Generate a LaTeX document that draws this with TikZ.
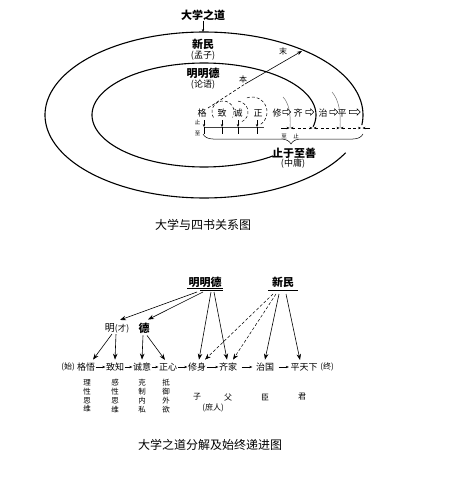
\documentclass[tikz,border=0pt]{standalone}
\usepackage{fontspec}
\setmainfont{Noto Sans CJK SC}
\usetikzlibrary{arrows.meta,shapes.arrows,decorations.pathreplacing,calc}
\begin{document}
\begin{tikzpicture}[x=1pt,y=-1pt,
  lbl/.style={inner sep=0pt, font=\fontsize{11}{12}\selectfont\bfseries},
  sub/.style={inner sep=0pt, font=\fontsize{9}{10}\selectfont},
  rowc/.style={inner sep=0pt, font=\fontsize{9}{10}\selectfont},
  brow/.style={inner xsep=0.5pt, inner ysep=3pt, font=\fontsize{9}{10}\selectfont},
  tinyt/.style={inner sep=0pt, font=\fontsize{5.5}{6}\selectfont},
  smallt/.style={inner sep=0pt, font=\fontsize{8}{9}\selectfont},
  vert/.style={inner sep=0pt, align=center, font=\fontsize{7.5}{8.8}\selectfont},
  captxt/.style={inner sep=0pt, font=\fontsize{12}{13}\selectfont},
  ring/.style={line width=1.1pt},
  thinarc/.style={line width=0.45pt, black!60},
  dsh/.style={dash pattern=on 3pt off 2pt, line width=0.6pt},
  sa/.style={-{Stealth[length=3pt,width=2.4pt]}, line width=0.4pt},
  dimline/.style={dash pattern=on 3pt off 2.5pt, line width=0.4pt,
    {Stealth[length=3pt,width=2.4pt]}-{Stealth[length=3pt,width=2.4pt]}},
  ba/.style={-{Stealth[length=6pt,width=4.5pt]}, line width=0.6pt},
  bad/.style={-{Stealth[length=6pt,width=4.5pt]}, dash pattern=on 3pt off 2pt, line width=0.5pt},
  ha/.style={single arrow, draw, line width=0.5pt, minimum height=8pt,
    single arrow head extend=1.5pt, inner sep=1.4pt},
]
\useasboundingbox (0,0) rectangle (448,500);

% ---------- top diagram ----------
\draw[ring] plot[domain=27:367, samples=160] ({204+159*cos(\x)},{115+83*sin(\x)});
\draw[ring] plot[domain=52:373, samples=140] ({204+112*cos(\x)},{115+52*sin(\x)});

\node[lbl] (dxzd) at (203,15) {大学之道};
\coordinate (outtop) at (203,32);
\draw[sa] (dxzd.south) -- (outtop);
\node[lbl] (xm) at (203,44) {新民};
\node[sub] (mz) at (203,56) {(孟子)};
\node[lbl] (mmd) at (203,73) {明明德};
\node[sub] (ly) at (203,85) {(论语)};

\node[rowc] (ge) at (202,113) {格};
\node[rowc] (zhia) at (222,113) {致};
\node[rowc] (cheng) at (238,113) {诚};
\node[rowc] (zheng) at (258,113) {正};
\node[rowc] (xiu) at (277,113) {修};
\node[rowc] (qi) at (298,113) {齐};
\node[rowc] (zhib) at (323,113) {治};
\node[rowc] (ping) at (342,113) {平};
\node[ha] (h1) at (286,112) {};
\node[ha] (h2) at (309,112) {};
\node[ha] (h3) at (333,112) {};
\node[ha, minimum height=11pt] (h4) at (354,112) {};

% dashed progress arcs
\draw[dsh, line width=0.5pt] plot[domain=-210:30, samples=40] ({223+11*cos(\x)},{112+11*sin(\x)});
\draw[dsh, line width=0.5pt] plot[domain=-80:60, samples=30] ({236+12*cos(\x)},{112+11*sin(\x)});
\draw[dsh, line width=0.5pt] plot[domain=-110:60, samples=30] ({252+15*cos(\x)},{112+15*sin(\x)});

% thin arcs
\draw[thinarc] (283,97) .. controls (289,103) and (291,115) .. (290,128);
\draw[thinarc] (332,92) .. controls (339,100) and (341,113) .. (340,128);

% ben - mo arrow
\coordinate (bstart) at (208,108);
\coordinate (bmid) at (245,84);
\coordinate (btip) at (302,51);
\draw[dsh] (bstart) -- (bmid);
\draw[-{Stealth[length=5pt,width=3.6pt]}, line width=0.6pt] (bmid) -- (btip);
\node[smallt] (ben) at (243,79) {本};
\node[smallt] (mo) at (283,51) {末};

% ticks left
\draw[line width=0.9pt, black!75] (204,127) -- (264,127);
\foreach \xx in {204,222,238,257} {
  \draw[sa] (\xx,120) -- (\xx,127);
  \draw[line width=0.4pt] (\xx,127) -- (\xx,134);
}
\node[tinyt] (zhiL) at (197.5,122) {止};
\node[tinyt] (zhiL2) at (197.5,133) {至};

% dimension line right
\draw[sa] (281,128) -- (289.5,128);
\draw[dimline] (290.5,128) -- (312.5,128);
\draw[dimline] (313.5,128) -- (339.5,128);
\draw[dimline] (340.5,128) -- (361,128);
\draw[sa] (370,128) -- (362.5,128);
\node[tinyt] (zhiR) at (284,136) {至};
\node[tinyt] (zhiR2) at (296,136) {止};

% brace
\draw[decorate, decoration={brace, mirror, amplitude=10pt, aspect=0.55}, line width=0.5pt] (203,134) -- (363,134);
\node[lbl] (zzzs) at (294,153) {止于至善};
\node[sub] (zy) at (293,164) {(中庸)};

\node[captxt] (cap1) at (203,225) {大学与四书关系图};

% ---------- bottom diagram ----------
\node[lbl] (mmdb) at (205,282) {明明德};
\draw[line width=0.9pt] (187,288) -- (223,288);
\draw[line width=0.9pt] (200,290) -- (223,290);
\node[lbl] (xmb) at (283,282) {新民};
\draw[line width=0.9pt] (268,290) -- (298,290);

\node[inner sep=0pt] (ming) at (117,328) {\fontsize{10}{11}\selectfont 明\fontsize{8.5}{10}\selectfont(才)};
\node[lbl] (de) at (144,328) {德};

\node[smallt] (shi) at (68,367) {(始)};
\node[brow] (gewu) at (86,367) {格悟};
\node[brow] (zhizhi) at (115,367) {致知};
\node[brow] (chengyi) at (142,367) {诚意};
\node[brow] (zhengxin) at (168,367) {正心};
\node[brow] (xiushen) at (197,367) {修身};
\node[brow] (qijia) at (228,367) {齐家};
\node[brow] (zhiguo) at (265,367) {治国};
\node[brow] (ptx) at (304,367) {平天下};
\node[smallt] (zhong) at (327,367) {(终)};

\draw[sa] (gewu) -- (zhizhi);
\draw[sa] (zhizhi) -- (chengyi);
\draw[sa] (chengyi) -- (zhengxin);
\draw[sa] (zhengxin) -- (xiushen);
\draw[sa] (xiushen) -- (qijia);
\draw[sa, shorten <=4pt, shorten >=3pt] (qijia) -- (zhiguo);
\draw[sa, shorten <=4pt, shorten >=1pt] (zhiguo) -- (ptx);

% arrows from 明明德
\coordinate (ma) at (197,292);
\coordinate (mb) at (203,292);
\coordinate (mc) at (211,292);
\coordinate (md) at (214,292);
\draw[ba] (ma) -- ([xshift=3pt,yshift=3pt]ming.north);
\draw[ba] (mb) -- ([xshift=4pt,yshift=3pt]de.north);
\draw[ba] (mc) -- ([xshift=2pt]xiushen.north);
\draw[ba] (md) -- ([xshift=-1pt]qijia.north);

% arrows from 新民
\coordinate (xa) at (273,294);
\coordinate (xb) at (276,294);
\coordinate (xc) at (279,294);
\coordinate (xd) at (286,294);
\draw[bad] (xa) -- ([xshift=8pt]xiushen.north);
\draw[bad] (xb) -- ([xshift=5pt]qijia.north);
\draw[ba] (xc) -- (zhiguo.north);
\draw[ba] (xd) -- ([xshift=-4pt]ptx.north);

% arrows from 明(才) and 德
\draw[ba] ([xshift=-5pt,yshift=-1pt]ming.south) -- ([xshift=7pt]gewu.north);
\draw[ba] ([xshift=-1pt,yshift=-1pt]ming.south) -- (zhizhi.north);
\draw[ba] ([xshift=-1pt,yshift=-2pt]de.south) -- (chengyi.north);
\draw[ba] ([xshift=3pt,yshift=-2pt]de.south) -- ([xshift=-3pt]zhengxin.north);

% vertical notes
\node[vert] (n1) at (87,396) {理\\性\\思\\维};
\node[vert] (n2) at (115,396) {感\\性\\思\\维};
\node[vert] (n3) at (142,396) {克\\制\\内\\私};
\node[vert] (n4) at (166,396) {抵\\御\\外\\欲};
\node[smallt] (zi) at (197,397) {子};
\node[smallt] (fu) at (228,397) {父};
\node[smallt] (chen) at (265,397) {臣};
\node[smallt] (jun) at (302,397) {君};
\node[smallt] (shuren) at (213,408) {(庶人)};

\node[captxt] (cap2) at (210,445) {大学之道分解及始终递进图};
\end{tikzpicture}
\end{document}
